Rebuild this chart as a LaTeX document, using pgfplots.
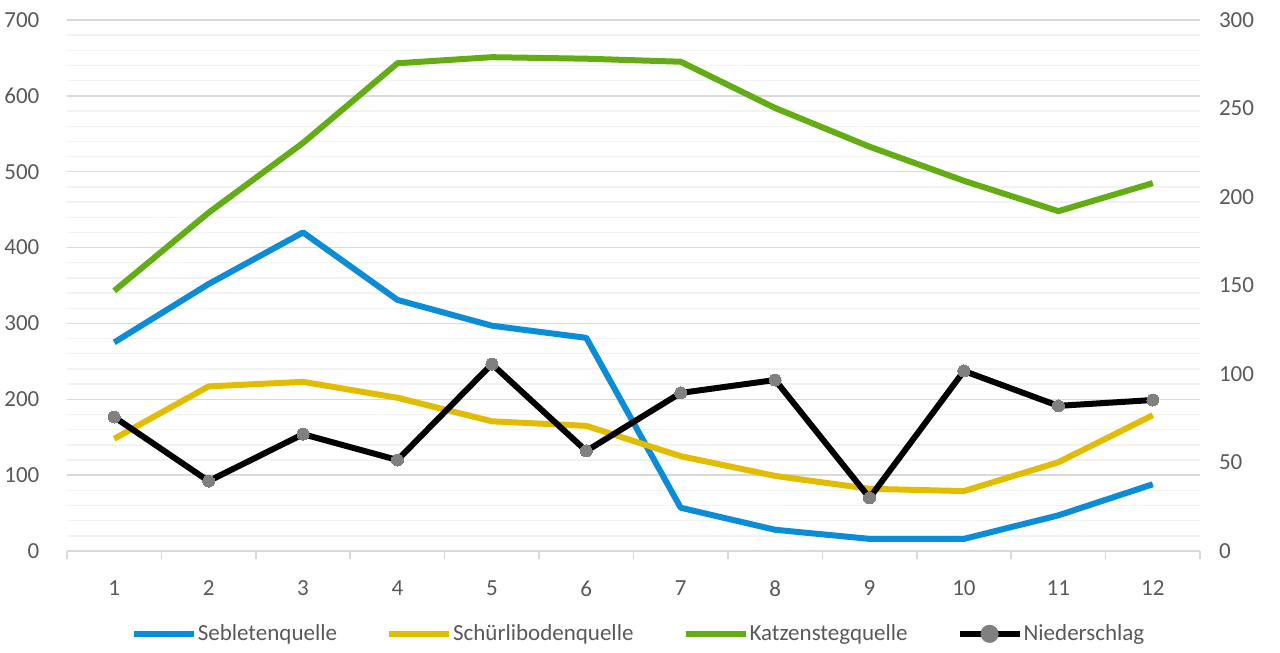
\documentclass[border=0pt]{standalone}
\usepackage{pgfplots}
\pgfplotsset{compat=1.18}
\usepackage{fontspec}
\setmainfont{Carlito}
\definecolor{cblue}{HTML}{0A8CD9}
\definecolor{cyellow}{HTML}{E2BC00}
\definecolor{cgreen}{HTML}{63AD14}
\definecolor{ctext}{HTML}{595959}
\definecolor{cmajor}{HTML}{D9D9D9}
\definecolor{cminor}{HTML}{F2F2F2}
\begin{document}
\begin{tikzpicture}[x=0.5pt,y=0.5pt]
\useasboundingbox (-67,-102) rectangle (1213,551);
\pgfplotsset{every axis/.append style={
  scale only axis, width=566.5pt, height=265.5pt,
  xmin=0.5, xmax=12.5,
  /pgf/number format/assume math mode=true,
  tick label style={font=\fontsize{11.5}{13}\selectfont, color=ctext},
}}
\begin{axis}[
  ymin=0, ymax=700,
  ytick={0,100,...,700},
  minor y tick num=4,
  ymajorgrids, yminorgrids,
  major grid style={cmajor, line width=0.7pt},
  minor grid style={cminor, line width=0.7pt},
  axis y line*=left, axis x line*=bottom,
  y axis line style={draw=none},
  x axis line style={cmajor, line width=0.8pt},
  xtick={1,...,12},
  minor xtick={0.5,1.5,...,12.5},
  major x tick style={draw=none},
  minor x tick style={cmajor, line width=0.8pt},
  tick align=outside,
  minor tick length=4pt,
  ytick style={draw=none},
  yticklabel style={xshift=-6pt},
  xticklabel style={yshift=-7pt},
]
\addplot[cblue, line width=3pt, line join=round] coordinates {
(1,275) (2,352) (3,420) (4,331) (5,297) (6,281) (7,57) (8,28) (9,16) (10,16) (11,47) (12,88)};
\addplot[cyellow, line width=3pt, line join=round] coordinates {
(1,148) (2,217) (3,223) (4,202) (5,171) (6,165) (7,125) (8,99) (9,82) (10,79) (11,117) (12,179)};
\addplot[cgreen, line width=3pt, line join=round] coordinates {
(1,343) (2,446) (3,538) (4,643) (5,651) (6,649) (7,645) (8,584) (9,533) (10,488) (11,448) (12,485)};
\end{axis}
\begin{axis}[
  ymin=0, ymax=300,
  ytick={0,50,...,300},
  axis y line*=right, axis x line=none,
  y axis line style={draw=none},
  ytick style={draw=none},
  yticklabel style={xshift=6pt},
  legend columns=4,
  legend style={draw=none, fill=none, at={(0.504,-0.156)}, anchor=center,
    font=\fontsize{11.5}{13}\selectfont, text=ctext,
    nodes={inner xsep=0.5pt},
    /tikz/every even column/.append style={column sep=24pt}},
  legend image code/.code={\draw[#1] (0pt,0pt) -- (30pt,0pt);},
  legend cell align=left,
]
\addlegendimage{cblue, line width=3pt}
\addlegendentry{Sebletenquelle}
\addlegendimage{cyellow, line width=3pt}
\addlegendentry{Schürlibodenquelle}
\addlegendimage{cgreen, line width=3pt}
\addlegendentry{Katzenstegquelle}
\addlegendimage{black, line width=3pt, legend image code/.code={\draw[black, line width=3pt] (0pt,0pt) -- (30pt,0pt); \fill[gray] (15pt,0pt) circle (3pt);}}
\addlegendentry{Niederschlag}
\addplot[black, line width=3pt, line join=round, mark=*, mark size=3pt,
  mark options={fill=gray, draw=gray, line width=0pt}, forget plot] coordinates {
(1,75.7) (2,39.5) (3,66) (4,51.4) (5,105.6) (6,56.5) (7,89.3) (8,96.6) (9,30) (10,101.7) (11,82) (12,85.3)};
\end{axis}
\end{tikzpicture}
\end{document}
